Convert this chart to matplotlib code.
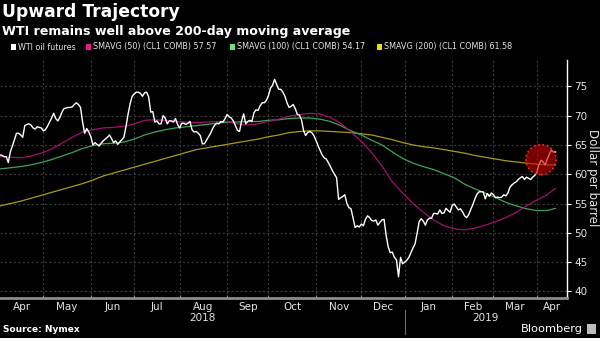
import numpy as np
import pandas as pd
import matplotlib
matplotlib.use("Agg")
import matplotlib.pyplot as plt
from matplotlib.patches import Rectangle
from matplotlib.transforms import blended_transform_factory

# Daily WTI front-month settles, one per weekday from 2018-04-02
wti_close = [
    63.3, 63.2, 63.0, 63.0, 62.0, 63.8, 64.8, 65.9, 67.0, 67.0,
    66.7, 66.3, 68.3, 68.5, 68.6, 68.4, 67.9, 67.7, 68.1, 68.0,
    67.9, 67.4, 67.6, 68.2, 68.9, 69.6, 70.4, 69.5, 69.1, 69.7,
    70.6, 71.2, 71.3, 71.4, 71.4, 71.5, 71.9, 72.2, 71.9, 71.4,
    68.9, 67.0, 67.8, 67.2, 66.4, 65.0, 65.4, 65.1, 64.8, 65.3,
    65.7, 66.0, 66.3, 66.7, 66.1, 65.4, 65.7, 65.1, 65.5, 65.9,
    66.3, 68.1, 70.2, 72.0, 73.3, 73.7, 74.0, 74.0, 73.8, 73.3,
    73.9, 74.0, 73.2, 70.6, 70.7, 68.9, 69.1, 68.6, 68.6, 70.0,
    69.6, 68.6, 69.1, 69.1, 68.9, 69.5, 68.5, 67.9, 68.7, 68.7,
    68.5, 68.7, 69.0, 67.6, 67.2, 67.3, 67.0, 66.6, 65.2, 65.2,
    65.8, 66.4, 67.0, 67.8, 68.4, 68.7, 68.6, 69.0, 68.9, 69.5,
    70.2, 69.8, 69.6, 69.1, 68.3, 67.5, 67.3, 69.1, 70.3, 68.6,
    69.0, 69.2, 69.0, 70.5, 71.0, 70.9, 71.7, 72.2, 72.2, 72.6,
    73.4, 74.7, 75.2, 76.2, 75.3, 74.5, 74.5, 74.0, 73.3, 72.2,
    71.4, 71.6, 71.9, 71.2, 70.2, 70.1, 69.3, 67.5, 66.6, 67.1,
    67.3, 67.1, 66.6, 65.8, 64.9, 64.1, 63.3, 62.8, 62.6, 62.0,
    61.3, 60.6, 60.0, 59.4, 55.7, 56.0, 56.2, 56.5, 55.0, 54.3,
    54.1, 52.5, 50.9, 51.2, 51.0, 51.5, 51.2, 52.3, 52.9, 52.6,
    52.1, 52.0, 52.2, 51.3, 51.8, 52.2, 52.3, 49.6, 47.6, 46.6,
    46.7, 45.8, 45.4, 42.5, 45.8, 44.7, 45.0, 45.3, 45.8, 46.6,
    47.4, 48.1, 49.9, 51.9, 52.4, 52.0, 51.3, 52.2, 52.5, 52.5,
    53.3, 53.3, 53.2, 53.9, 53.3, 53.4, 54.2, 53.8, 53.5, 54.7,
    54.9, 54.4, 53.9, 54.1, 53.6, 52.9, 52.6, 53.1, 54.0, 54.8,
    55.8, 56.6, 57.0, 57.0, 57.0, 55.8, 56.7, 56.2, 56.8, 56.5,
    56.0, 56.1, 56.0, 56.1, 56.5, 56.3, 56.8, 57.8, 58.2, 58.5,
    58.7, 59.1, 59.4, 59.6, 59.1, 59.5, 59.3, 59.1, 59.5, 59.8,
    60.3, 61.6, 62.4, 62.1, 61.6, 62.5, 63.4, 64.1, 63.8, 63.8,
]

# Moving averages, sampled every Monday plus the last session
sma50 = [
    63.0, 62.9, 62.8, 63.1, 63.6, 64.3, 65.3, 66.3, 67.2, 67.6,
    67.9, 68.0, 68.2, 68.6, 69.2, 69.3, 69.2, 69.0, 68.9, 68.8,
    68.9, 69.0, 69.0, 68.6, 68.4, 68.6, 69.0, 69.4, 69.9, 70.2,
    70.4, 70.3, 69.7, 68.7, 67.2, 65.6, 63.7, 61.4, 58.7, 56.8,
    55.0, 53.5, 52.2, 51.2, 50.7, 50.5, 50.8, 51.3, 51.9, 52.6,
    53.5, 54.6, 55.6, 56.5, 57.57,
]
sma100 = [
    60.9, 61.1, 61.3, 61.6, 62.0, 62.5, 63.1, 63.7, 64.4, 64.9,
    65.2, 65.3, 65.5, 66.0, 66.7, 67.2, 67.6, 67.9, 68.1, 68.3,
    68.5, 68.7, 68.9, 68.9, 69.0, 69.0, 69.2, 69.3, 69.5, 69.6,
    69.6, 69.4, 69.0, 68.3, 67.4, 66.7, 65.8, 65.0, 63.8, 62.7,
    61.9, 61.3, 60.8, 60.1, 59.4, 58.3, 57.5, 56.8, 56.0, 55.2,
    54.6, 54.1, 53.8, 53.8, 54.17,
]
sma200 = [
    54.6, 55.0, 55.4, 55.9, 56.4, 56.9, 57.4, 57.9, 58.4, 59.0,
    59.7, 60.2, 60.7, 61.2, 61.7, 62.2, 62.7, 63.2, 63.7, 64.2,
    64.5, 64.8, 65.1, 65.4, 65.7, 66.0, 66.4, 66.7, 67.1, 67.3,
    67.4, 67.4, 67.3, 67.2, 67.1, 66.9, 66.7, 66.3, 65.9, 65.4,
    65.0, 64.7, 64.5, 64.2, 63.9, 63.6, 63.2, 62.9, 62.6, 62.3,
    62.1, 61.9, 61.7, 61.6, 61.58,
]

start = "2018-04-02"
highlight_date = "2019-04-03"
highlight_value = 62.5
y_ticks = [40, 45, 50, 55, 60, 65, 70, 75]

BG = "black"
GRID = "#3a3a3a"
TXT = "#e4e4e4"


def session_index(dates):
    """Position of each date on a weekday-only axis."""
    d = pd.to_datetime(pd.Index(dates)).values.astype("datetime64[D]")
    return np.busday_count(np.datetime64(start), d)


wti_dates = pd.bdate_range(start, periods=len(wti_close))
ma_dates = list(pd.bdate_range(start, wti_dates[-1], freq="5B")) + [wti_dates[-1]]
x_wti = session_index(wti_dates)
x_ma = session_index(ma_dates)

month_starts = pd.date_range("2018-05-01", "2019-04-01", freq="MS")
x_month = session_index(month_starts)

fig = plt.figure(figsize=(6.0, 3.38), dpi=100, facecolor=BG)
ax = fig.add_axes([0.0, 1 - 298 / 338, 567 / 600, (298 - 60) / 338])
ax.set_facecolor(BG)

x_right = 274.6
ax.set_xlim(0, x_right)
ax.set_ylim(38.87, 79.5)

# grid
for y in y_ticks:
    ax.axhline(y, color=GRID, lw=0.8, ls=(0, (2, 2)), zorder=0)
for xm in x_month:
    ax.axvline(xm, color=GRID, lw=0.8, ls=(0, (2, 2)), zorder=0)

ax.plot(x_ma, sma200, color="#a89a14", lw=0.9, zorder=2)
ax.plot(x_ma, sma100, color="#3ca655", lw=0.9, zorder=2)
ax.plot(x_ma, sma50, color="#a3106f", lw=0.9, zorder=2)
ax.plot(x_wti, wti_close, color="white", lw=1.0, zorder=3)

# highlight circle
x_hl = session_index([highlight_date])[0]
ax.scatter([x_hl], [highlight_value], s=470, facecolor=(0.8, 0.0, 0.0, 0.6),
           edgecolor="#ff2a2a", linewidths=1.2, linestyles=":", zorder=4)

# spines
for side in ("top", "left"):
    ax.spines[side].set_visible(False)
ax.spines["right"].set_color("white")
ax.spines["right"].set_linewidth(1.0)
ax.spines["bottom"].set_color("#8c8c8c")
ax.spines["bottom"].set_linewidth(2.0)

# y axis on the right
ax.yaxis.tick_right()
ax.set_yticks(y_ticks)
ax.tick_params(axis="y", colors="white", labelcolor=TXT, labelsize=7.5,
               length=3, width=0.8, pad=2)

# month ticks at boundaries, labels centred in each month
ax.set_xticks(x_month)
ax.set_xticklabels([])
ax.tick_params(axis="x", which="major", direction="in", length=2,
               color="#8c8c8c", width=0.8)
edges = np.concatenate([[0], x_month, [x_right]])
centres = (edges[:-1] + edges[1:]) / 2
month_names = ["Apr", "May", "Jun", "Jul", "Aug", "Sep", "Oct", "Nov",
               "Dec", "Jan", "Feb", "Mar", "Apr"]
ax.set_xticks(centres, minor=True)
ax.set_xticklabels(month_names, minor=True)
ax.tick_params(axis="x", which="minor", length=0, labelsize=7.5,
               labelcolor=TXT, pad=3)

# year labels and separator
trans = blended_transform_factory(ax.transData, ax.transAxes)
x_jan = session_index(["2019-01-01"])[0]
ax.text(x_jan / 2, -0.065, "2018", transform=trans, ha="center", va="top",
        fontsize=7.5, color=TXT)
ax.text((x_jan + x_right) / 2, -0.065, "2019", transform=trans, ha="center",
        va="top", fontsize=7.5, color=TXT)
ax.plot([x_jan, x_jan], [-0.05, -0.15], transform=trans, color="#6a6a6a",
        lw=0.8, clip_on=False)

fig.text(0.988, 1 - 178 / 338, "Dollar per barrel", rotation=270,
         ha="center", va="center", fontsize=8.5, color=TXT)

# titles
fig.text(2 / 600, 1 - 12 / 338, "Upward Trajectory", ha="left", va="center",
         fontsize=12.3, fontweight="bold", color="white")
fig.text(2 / 600, 1 - 31 / 338, "WTI remains well above 200-day moving average",
         ha="left", va="center", fontsize=9.1, fontweight="bold", color="white")

# legend row
legend_items = [
    ("WTI oil futures", "white", 11),
    ("SMAVG (50) (CL1 COMB) {:.2f}".format(sma50[-1]), "#e8198b", 86),
    ("SMAVG (100) (CL1 COMB) {:.2f}".format(sma100[-1]), "#6ee07a", 230),
    ("SMAVG (200) (CL1 COMB) {:.2f}".format(sma200[-1]), "#f0e000", 377),
]
leg_y = 47
for label, color, px in legend_items:
    fig.patches.append(Rectangle((px / 600, 1 - (leg_y + 3) / 338), 5 / 600, 6 / 338,
                                 transform=fig.transFigure, facecolor=color,
                                 edgecolor="none"))
    fig.text((px + 7) / 600, 1 - leg_y / 338, label, ha="left", va="center",
             fontsize=5.8, color=TXT)

# footer
fig.text(3 / 600, 1 - 330 / 338, "Source: Nymex", ha="left", va="center",
         fontsize=6.5, fontweight="bold", color="white")
fig.text(583 / 600, 1 - 329 / 338, "Bloomberg", ha="right", va="center",
         fontsize=8.2, color="white")
fig.patches.append(Rectangle((587 / 600, 1 - 334 / 338), 9 / 600, 10 / 338,
                             transform=fig.transFigure, facecolor="#bdbdbd",
                             edgecolor="none"))

fig.savefig("out.png", dpi=100, facecolor=BG)
